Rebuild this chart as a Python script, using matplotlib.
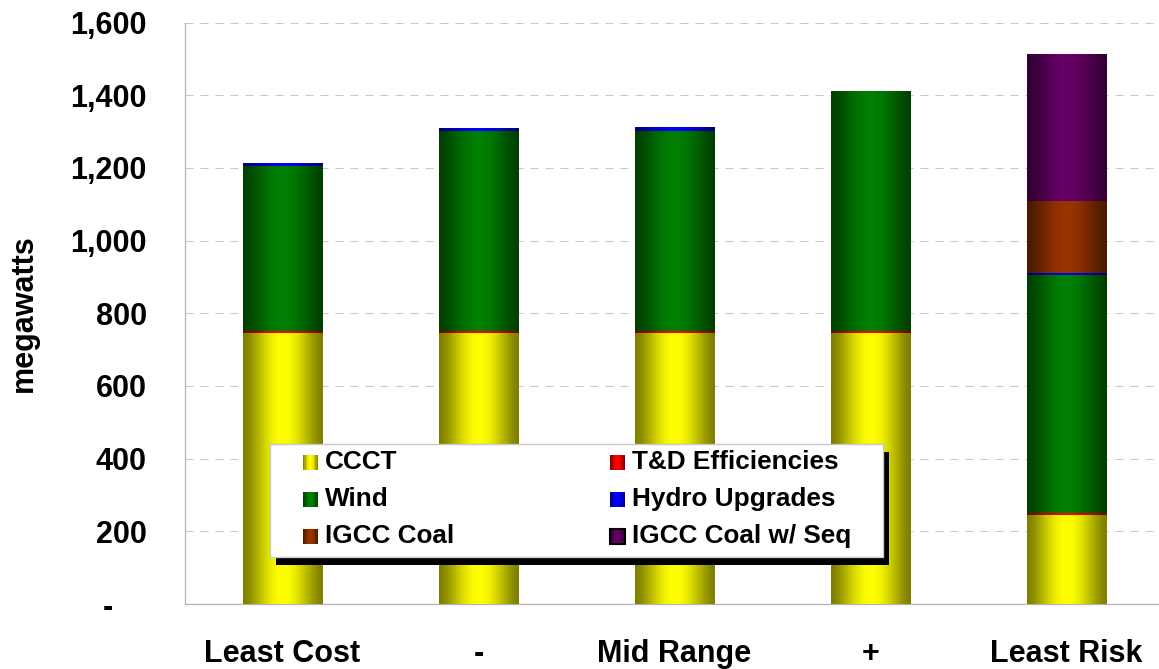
import numpy as np
import matplotlib as mpl
mpl.use("Agg")
import matplotlib.pyplot as plt
from matplotlib.patches import Rectangle
from matplotlib.legend_handler import HandlerBase
from matplotlib.colors import to_rgb

# data (megawatts)
categories = ["Least Cost", "-", "Mid Range", "+", "Least Risk"]
ccct      = [747, 747, 747, 747, 246]
td_eff    = [3, 3, 3, 3, 4]
wind      = [455, 552, 552, 659, 655]
hydro     = [6, 8, 11, 0, 5]
igcc_coal = [0, 0, 0, 0, 199]
igcc_seq  = [0, 0, 0, 0, 404]

series_names  = ["CCCT", "T&D Efficiencies", "Wind", "Hydro Upgrades",
                 "IGCC Coal", "IGCC Coal w/ Seq"]
series_values = [ccct, td_eff, wind, hydro, igcc_coal, igcc_seq]
series_colors = ["#FFFF00", "#FF0000", "#008000", "#0000FF", "#993300", "#660066"]
yticks = [0, 200, 400, 600, 800, 1000, 1200, 1400, 1600]

W, H = 1159, 669
FONT = "Liberation Sans"
plt.rcParams["font.family"] = [FONT, "DejaVu Sans"]
plt.rcParams["font.weight"] = "bold"


def shade(t):
    # dark edges, bright middle -> cylinder look
    return 0.5 + 0.5 * np.sin(np.pi * t) ** 1.5


def gradient_img(color, n=80):
    t = np.linspace(0, 1, n)
    rgb = np.array(to_rgb(color))
    return (shade(t)[:, None] * rgb)[None, :, :]


class GradientHandler(HandlerBase):
    def create_artists(self, legend, orig_handle, xdescent, ydescent,
                       width, height, fontsize, trans):
        rgb = np.array(to_rgb(orig_handle.get_facecolor()))
        n = 10
        y0 = -ydescent - 2.0  # sit a little lower, like the original
        arts = []
        for i in range(n):
            t = (i + 0.5) / n
            r = Rectangle((-xdescent + i * width / n, y0), width / n * 1.05, height,
                          facecolor=shade(t) * rgb, edgecolor="none",
                          antialiased=False, transform=trans)
            arts.append(r)
        if orig_handle.get_linewidth() > 0:
            b = Rectangle((-xdescent, y0), width, height, facecolor="none",
                          edgecolor="black", linewidth=1.5, transform=trans)
            arts.append(b)
        return arts


def fig_xy(x, y):
    return x / W, 1 - y / H


fig = plt.figure(figsize=(W / 100, H / 100), dpi=100)
ax = fig.add_axes([184.5 / W, 65 / H, 980 / W, 581.5 / H])

x = np.arange(len(categories))
bar_w = 0.405
bottom = np.zeros(len(categories))
for vals, col in zip(series_values, series_colors):
    vals = np.array(vals, dtype=float)
    bars = ax.bar(x, vals, bar_w, bottom=bottom, color=col, edgecolor="none", zorder=2)
    for p in bars:
        if p.get_height() <= 0:
            continue
        x0, y0 = p.get_x(), p.get_y()
        ax.imshow(gradient_img(col), extent=(x0, x0 + p.get_width(), y0, y0 + p.get_height()),
                  aspect="auto", interpolation="bilinear", zorder=3)
    bottom += vals

ax.set_xlim(-0.5, len(categories) - 0.5)
ax.set_ylim(0, 1600)
ax.set_yticks(yticks)
ax.set_yticklabels(["" if v == 0 else "{:,}".format(v) for v in yticks])
ax.set_xticks(x)
ax.set_xticklabels(categories)
ax.tick_params(axis="y", length=0, pad=27, labelsize=22)
ax.tick_params(axis="x", length=0, pad=25, labelsize=22)
for lab in ax.get_xticklabels() + ax.get_yticklabels():
    lab.set_fontweight("bold")

# accounting style dash for zero
ax.annotate("-", xy=(0, 0), xycoords=ax.get_yaxis_transform(), xytext=(-51.5, -3),
            textcoords="offset points", ha="right", va="center", fontsize=22, fontweight="bold")

ax.set_axisbelow(True)
ax.yaxis.grid(True, color="#c8c8c8", linestyle=(0, (7.7, 6.7)), linewidth=0.75)
ax.xaxis.grid(False)
for s in ["top", "right"]:
    ax.spines[s].set_visible(False)
for s in ["left", "bottom"]:
    ax.spines[s].set_color("#b4b4b4")
    ax.spines[s].set_linewidth(0.9)

fig.text(24 / W, 1 - 313 / H, "megawatts", rotation=90, ha="center", va="center",
         fontsize=22, fontweight="bold")

# legend box with hard black shadow
lx0, ly0 = fig_xy(270, 557)
lx1, ly1 = fig_xy(882.7, 444)
sx0, sy0 = fig_xy(276, 565)
fig.add_artist(Rectangle((sx0, sy0), lx1 - lx0, ly1 - ly0, transform=fig.transFigure,
                         facecolor="black", edgecolor="none", zorder=5))
fig.add_artist(Rectangle((lx0, ly0), lx1 - lx0, ly1 - ly0, transform=fig.transFigure,
                         facecolor="white", edgecolor="#c8c8c8", linewidth=1, zorder=5.1))

order = [0, 2, 4, 1, 3, 5]
handles = []
for i in order:
    lw = 1 if series_names[i] == "IGCC Coal w/ Seq" else 0
    handles.append(Rectangle((0, 0), 1, 1, facecolor=series_colors[i], linewidth=lw))
labels = [series_names[i] for i in order]
fs = 18.8
fpx = fs * 100 / 72
leg = fig.legend(handles, labels, ncol=2, loc="upper left",
                 bbox_to_anchor=fig_xy(302.7, 450), frameon=False,
                 borderpad=0, borderaxespad=0,
                 handlelength=15.6 / fpx, handleheight=14.3 / fpx,
                 handletextpad=6.7 / fpx, columnspacing=155.5 / fpx, labelspacing=0.5,
                 prop={"family": FONT, "weight": "bold", "size": fs},
                 handler_map={Rectangle: GradientHandler()})
leg.set_zorder(6)

fig.savefig("out.png", dpi=100)
